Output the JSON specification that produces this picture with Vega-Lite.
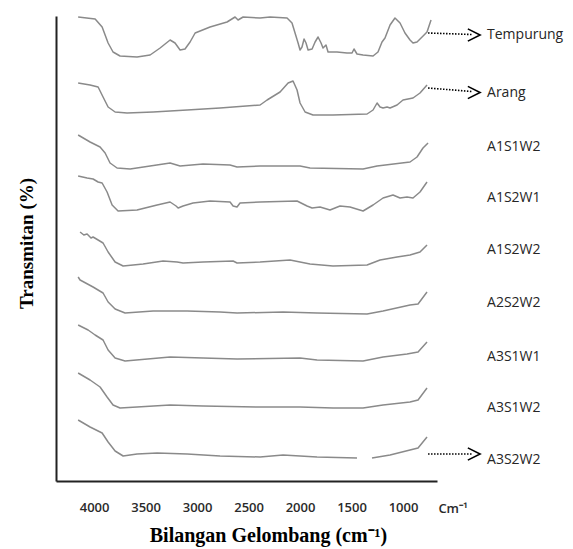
{
  "$schema": "https://vega.github.io/schema/vega-lite/v6.json",
  "width": 381,
  "height": 465,
  "autosize": {"type": "none"},
  "padding": {"left": 56, "top": 16, "right": 136, "bottom": 68},
  "background": "white",
  "view": {"stroke": null},
  "encoding": {
    "x": {
      "field": "x", "type": "quantitative",
      "scale": {"domain": [4370, 670], "nice": false, "zero": false},
      "axis": {
        "values": [4000, 3500, 3000, 2500, 2000, 1500, 1000],
        "format": "d",
        "ticks": false, "tickSize": 0, "grid": false,
        "domainColor": "#222222", "domainWidth": 2,
        "labelFont": "Open Sans", "labelFontSize": 13, "labelFontWeight": 600, "labelColor": "#2a2a2a", "labelPadding": 20,
        "title": "Bilangan Gelombang (cm⁻¹)",
        "titleFont": "Liberation Serif", "titleFontSize": 20, "titleFontWeight": "bold", "titleColor": "#000000",
        "titleX": 212, "titleY": 60, "titleBaseline": "alphabetic"
      }
    },
    "y": {
      "field": "y", "type": "quantitative",
      "scale": {"domain": [0, 93], "nice": false, "zero": false},
      "axis": {
        "labels": false, "ticks": false, "tickSize": 0, "grid": false,
        "domainColor": "#222222", "domainWidth": 2,
        "title": "Transmitan (%)",
        "titleFont": "Liberation Serif", "titleFontSize": 19, "titleFontWeight": "bold", "titleColor": "#000000",
        "titleX": -24, "titleY": 227, "titleAngle": -90, "titleBaseline": "alphabetic", "titleAlign": "center"
      }
    }
  },
  "layer": [
    {
      "data": {"values": [
        {"s":"Tempurung","x":4155,"y":92.8},{"s":"Tempurung","x":3990,"y":92.4},{"s":"Tempurung","x":3922,"y":90.8},{"s":"Tempurung","x":3864,"y":87.6},{"s":"Tempurung","x":3816,"y":85.8},{"s":"Tempurung","x":3748,"y":85.0},{"s":"Tempurung","x":3583,"y":84.8},{"s":"Tempurung","x":3456,"y":85.2},{"s":"Tempurung","x":3359,"y":86.6},{"s":"Tempurung","x":3262,"y":88.2},{"s":"Tempurung","x":3214,"y":87.6},{"s":"Tempurung","x":3165,"y":86.2},{"s":"Tempurung","x":3117,"y":86.4},{"s":"Tempurung","x":3068,"y":87.8},{"s":"Tempurung","x":3019,"y":89.6},{"s":"Tempurung","x":2874,"y":90.8},{"s":"Tempurung","x":2709,"y":91.8},{"s":"Tempurung","x":2631,"y":92.8},{"s":"Tempurung","x":2602,"y":92.2},{"s":"Tempurung","x":2553,"y":92.8},{"s":"Tempurung","x":2388,"y":92.6},{"s":"Tempurung","x":2291,"y":92.8},{"s":"Tempurung","x":2126,"y":92.6},{"s":"Tempurung","x":2078,"y":91.6},{"s":"Tempurung","x":2019,"y":87.6},{"s":"Tempurung","x":2000,"y":86.2},{"s":"Tempurung","x":1981,"y":86.8},{"s":"Tempurung","x":1961,"y":88.4},{"s":"Tempurung","x":1942,"y":87.6},{"s":"Tempurung","x":1922,"y":86.2},{"s":"Tempurung","x":1883,"y":86.4},{"s":"Tempurung","x":1854,"y":87.8},{"s":"Tempurung","x":1825,"y":88.8},{"s":"Tempurung","x":1796,"y":87.6},{"s":"Tempurung","x":1777,"y":86.6},{"s":"Tempurung","x":1748,"y":87.2},{"s":"Tempurung","x":1728,"y":85.8},{"s":"Tempurung","x":1641,"y":85.8},{"s":"Tempurung","x":1544,"y":85.6},{"s":"Tempurung","x":1495,"y":85.6},{"s":"Tempurung","x":1476,"y":86.4},{"s":"Tempurung","x":1447,"y":85.4},{"s":"Tempurung","x":1388,"y":85.2},{"s":"Tempurung","x":1291,"y":85.0},{"s":"Tempurung","x":1243,"y":85.8},{"s":"Tempurung","x":1204,"y":87.8},{"s":"Tempurung","x":1175,"y":88.6},{"s":"Tempurung","x":1126,"y":91.2},{"s":"Tempurung","x":1078,"y":92.6},{"s":"Tempurung","x":1029,"y":91.6},{"s":"Tempurung","x":981,"y":89.6},{"s":"Tempurung","x":932,"y":88.2},{"s":"Tempurung","x":903,"y":87.6},{"s":"Tempurung","x":864,"y":87.8},{"s":"Tempurung","x":815,"y":88.8},{"s":"Tempurung","x":767,"y":89.8},{"s":"Tempurung","x":728,"y":92.2},

        {"s":"Arang","x":4155,"y":79.6},{"s":"Arang","x":4039,"y":79.2},{"s":"Arang","x":3961,"y":78.8},{"s":"Arang","x":3913,"y":76.8},{"s":"Arang","x":3864,"y":74.8},{"s":"Arang","x":3796,"y":73.8},{"s":"Arang","x":3680,"y":73.6},{"s":"Arang","x":3427,"y":73.8},{"s":"Arang","x":3097,"y":74.2},{"s":"Arang","x":2777,"y":74.6},{"s":"Arang","x":2388,"y":75.2},{"s":"Arang","x":2320,"y":76.2},{"s":"Arang","x":2194,"y":77.8},{"s":"Arang","x":2116,"y":79.6},{"s":"Arang","x":2068,"y":80.0},{"s":"Arang","x":2029,"y":78.2},{"s":"Arang","x":2000,"y":75.6},{"s":"Arang","x":1951,"y":73.8},{"s":"Arang","x":1874,"y":73.2},{"s":"Arang","x":1680,"y":73.2},{"s":"Arang","x":1349,"y":73.4},{"s":"Arang","x":1291,"y":74.2},{"s":"Arang","x":1252,"y":75.6},{"s":"Arang","x":1223,"y":74.8},{"s":"Arang","x":1194,"y":74.6},{"s":"Arang","x":1155,"y":74.8},{"s":"Arang","x":1126,"y":74.6},{"s":"Arang","x":1058,"y":75.2},{"s":"Arang","x":1000,"y":76.2},{"s":"Arang","x":903,"y":76.6},{"s":"Arang","x":835,"y":77.6},{"s":"Arang","x":767,"y":79.2},

        {"s":"A1S1W2","x":4155,"y":69.2},{"s":"A1S1W2","x":4039,"y":67.8},{"s":"A1S1W2","x":3942,"y":66.8},{"s":"A1S1W2","x":3893,"y":65.6},{"s":"A1S1W2","x":3845,"y":63.6},{"s":"A1S1W2","x":3777,"y":62.6},{"s":"A1S1W2","x":3650,"y":62.4},{"s":"A1S1W2","x":3456,"y":63.0},{"s":"A1S1W2","x":3262,"y":63.6},{"s":"A1S1W2","x":3165,"y":63.0},{"s":"A1S1W2","x":2942,"y":63.4},{"s":"A1S1W2","x":2680,"y":63.2},{"s":"A1S1W2","x":2612,"y":62.8},{"s":"A1S1W2","x":2388,"y":63.0},{"s":"A1S1W2","x":2000,"y":63.0},{"s":"A1S1W2","x":1903,"y":62.6},{"s":"A1S1W2","x":1388,"y":62.4},{"s":"A1S1W2","x":1252,"y":63.0},{"s":"A1S1W2","x":932,"y":63.8},{"s":"A1S1W2","x":864,"y":64.8},{"s":"A1S1W2","x":806,"y":66.6},{"s":"A1S1W2","x":757,"y":67.6},

        {"s":"A1S2W1","x":4155,"y":61.0},{"s":"A1S2W1","x":4068,"y":60.6},{"s":"A1S2W1","x":4010,"y":60.4},{"s":"A1S2W1","x":3961,"y":59.8},{"s":"A1S2W1","x":3922,"y":59.6},{"s":"A1S2W1","x":3874,"y":57.8},{"s":"A1S2W1","x":3825,"y":55.2},{"s":"A1S2W1","x":3767,"y":54.0},{"s":"A1S2W1","x":3583,"y":54.2},{"s":"A1S2W1","x":3388,"y":55.2},{"s":"A1S2W1","x":3262,"y":55.8},{"s":"A1S2W1","x":3204,"y":55.0},{"s":"A1S2W1","x":3184,"y":54.6},{"s":"A1S2W1","x":3136,"y":55.0},{"s":"A1S2W1","x":3039,"y":55.6},{"s":"A1S2W1","x":2874,"y":56.0},{"s":"A1S2W1","x":2680,"y":55.8},{"s":"A1S2W1","x":2650,"y":55.0},{"s":"A1S2W1","x":2612,"y":54.8},{"s":"A1S2W1","x":2583,"y":55.6},{"s":"A1S2W1","x":2388,"y":55.8},{"s":"A1S2W1","x":2029,"y":56.0},{"s":"A1S2W1","x":1932,"y":55.0},{"s":"A1S2W1","x":1883,"y":54.6},{"s":"A1S2W1","x":1806,"y":54.8},{"s":"A1S2W1","x":1709,"y":54.2},{"s":"A1S2W1","x":1612,"y":55.0},{"s":"A1S2W1","x":1515,"y":54.8},{"s":"A1S2W1","x":1388,"y":54.0},{"s":"A1S2W1","x":1291,"y":55.2},{"s":"A1S2W1","x":1194,"y":56.6},{"s":"A1S2W1","x":1097,"y":57.2},{"s":"A1S2W1","x":1029,"y":56.6},{"s":"A1S2W1","x":961,"y":56.8},{"s":"A1S2W1","x":903,"y":56.6},{"s":"A1S2W1","x":835,"y":57.8},{"s":"A1S2W1","x":767,"y":59.8},

        {"s":"A1S2W2","x":4136,"y":49.8},{"s":"A1S2W2","x":4100,"y":49.2},{"s":"A1S2W2","x":4068,"y":49.4},{"s":"A1S2W2","x":4030,"y":48.6},{"s":"A1S2W2","x":4010,"y":48.8},{"s":"A1S2W2","x":3961,"y":48.2},{"s":"A1S2W2","x":3913,"y":47.6},{"s":"A1S2W2","x":3864,"y":45.8},{"s":"A1S2W2","x":3796,"y":43.8},{"s":"A1S2W2","x":3718,"y":43.0},{"s":"A1S2W2","x":3524,"y":43.4},{"s":"A1S2W2","x":3330,"y":44.0},{"s":"A1S2W2","x":3194,"y":43.8},{"s":"A1S2W2","x":3136,"y":43.6},{"s":"A1S2W2","x":2942,"y":43.8},{"s":"A1S2W2","x":2650,"y":44.0},{"s":"A1S2W2","x":2612,"y":43.6},{"s":"A1S2W2","x":2388,"y":43.8},{"s":"A1S2W2","x":2097,"y":44.2},{"s":"A1S2W2","x":1903,"y":43.4},{"s":"A1S2W2","x":1680,"y":43.0},{"s":"A1S2W2","x":1349,"y":43.2},{"s":"A1S2W2","x":1223,"y":44.2},{"s":"A1S2W2","x":1058,"y":44.8},{"s":"A1S2W2","x":932,"y":45.2},{"s":"A1S2W2","x":835,"y":45.8},{"s":"A1S2W2","x":767,"y":47.2},

        {"s":"A2S2W2","x":4155,"y":40.8},{"s":"A2S2W2","x":4136,"y":40.2},{"s":"A2S2W2","x":4010,"y":38.8},{"s":"A2S2W2","x":3913,"y":37.6},{"s":"A2S2W2","x":3864,"y":35.8},{"s":"A2S2W2","x":3796,"y":34.4},{"s":"A2S2W2","x":3699,"y":33.6},{"s":"A2S2W2","x":3427,"y":34.0},{"s":"A2S2W2","x":3097,"y":34.0},{"s":"A2S2W2","x":2777,"y":33.8},{"s":"A2S2W2","x":2612,"y":33.6},{"s":"A2S2W2","x":2165,"y":33.8},{"s":"A2S2W2","x":1835,"y":33.6},{"s":"A2S2W2","x":1349,"y":33.4},{"s":"A2S2W2","x":1194,"y":34.0},{"s":"A2S2W2","x":932,"y":35.2},{"s":"A2S2W2","x":854,"y":35.4},{"s":"A2S2W2","x":767,"y":37.8},

        {"s":"A3S1W1","x":4155,"y":31.2},{"s":"A3S1W1","x":4058,"y":30.2},{"s":"A3S1W1","x":3990,"y":29.2},{"s":"A3S1W1","x":3913,"y":28.2},{"s":"A3S1W1","x":3864,"y":26.2},{"s":"A3S1W1","x":3796,"y":24.6},{"s":"A3S1W1","x":3699,"y":24.0},{"s":"A3S1W1","x":3262,"y":24.8},{"s":"A3S1W1","x":2942,"y":24.6},{"s":"A3S1W1","x":2612,"y":24.4},{"s":"A3S1W1","x":2000,"y":24.6},{"s":"A3S1W1","x":1835,"y":24.2},{"s":"A3S1W1","x":1388,"y":24.0},{"s":"A3S1W1","x":1194,"y":24.8},{"s":"A3S1W1","x":961,"y":25.4},{"s":"A3S1W1","x":854,"y":25.8},{"s":"A3S1W1","x":767,"y":27.8},

        {"s":"A3S1W2","x":4155,"y":21.6},{"s":"A3S1W2","x":4039,"y":20.2},{"s":"A3S1W2","x":3942,"y":18.8},{"s":"A3S1W2","x":3874,"y":16.8},{"s":"A3S1W2","x":3816,"y":15.2},{"s":"A3S1W2","x":3748,"y":14.6},{"s":"A3S1W2","x":3583,"y":14.8},{"s":"A3S1W2","x":3262,"y":15.2},{"s":"A3S1W2","x":2942,"y":15.0},{"s":"A3S1W2","x":2388,"y":14.8},{"s":"A3S1W2","x":2000,"y":14.8},{"s":"A3S1W2","x":1680,"y":14.6},{"s":"A3S1W2","x":1388,"y":14.6},{"s":"A3S1W2","x":1194,"y":15.2},{"s":"A3S1W2","x":932,"y":15.8},{"s":"A3S1W2","x":854,"y":16.2},{"s":"A3S1W2","x":767,"y":18.6},

        {"s":"A3S2W2","p":1,"x":4155,"y":12.2},{"s":"A3S2W2","p":1,"x":4039,"y":10.8},{"s":"A3S2W2","p":1,"x":3922,"y":9.6},{"s":"A3S2W2","p":1,"x":3864,"y":7.8},{"s":"A3S2W2","p":1,"x":3796,"y":6.0},{"s":"A3S2W2","p":1,"x":3718,"y":5.0},{"s":"A3S2W2","p":1,"x":3583,"y":5.4},{"s":"A3S2W2","p":1,"x":3388,"y":5.6},{"s":"A3S2W2","p":1,"x":3097,"y":5.4},{"s":"A3S2W2","p":1,"x":2777,"y":5.0},{"s":"A3S2W2","p":1,"x":2388,"y":4.8},{"s":"A3S2W2","p":1,"x":2165,"y":5.2},{"s":"A3S2W2","p":1,"x":1835,"y":4.8},{"s":"A3S2W2","p":1,"x":1447,"y":4.6},
        {"s":"A3S2W2","p":2,"x":1301,"y":4.6},{"s":"A3S2W2","p":2,"x":1126,"y":5.2},{"s":"A3S2W2","p":2,"x":932,"y":6.2},{"s":"A3S2W2","p":2,"x":854,"y":6.6},{"s":"A3S2W2","p":2,"x":767,"y":8.8}
      ]},
      "mark": {"type": "line", "color": "#8a8a8a", "strokeWidth": 1.5, "interpolate": "linear", "strokeJoin": "round"},
      "encoding": {
        "detail": [{"field": "s", "type": "nominal"}, {"field": "p", "type": "nominal"}],
        "order": {"field": "x", "type": "quantitative", "sort": "descending"}
      }
    },
    {
      "data": {"values": [
        {"x": 757, "y": 89.6, "x2": 330, "y2": 89.3},
        {"x": 757, "y": 78.6, "x2": 330, "y2": 77.9},
        {"x": 757, "y": 5.4, "x2": 330, "y2": 5.4}
      ]},
      "mark": {"type": "rule", "color": "#000000", "strokeWidth": 1.6, "strokeDash": [1.5, 1.5]},
      "encoding": {
        "x2": {"field": "x2"},
        "y2": {"field": "y2"}
      }
    },
    {
      "data": {"values": [
        {"x": 311, "y": 89.2},
        {"x": 311, "y": 77.7},
        {"x": 311, "y": 5.4}
      ]},
      "mark": {"type": "point", "shape": "M -1 -1 L 1 0 L -1 1", "filled": false, "stroke": "#000000", "strokeWidth": 1.6, "size": 150, "opacity": 1}
    },
    {
      "data": {"values": [
        {"t": "Tempurung", "x": 184, "y": 89.2},
        {"t": "Arang", "x": 184, "y": 77.6},
        {"t": "A1S1W2", "x": 184, "y": 66.8},
        {"t": "A1S2W1", "x": 184, "y": 56.6},
        {"t": "A1S2W2", "x": 184, "y": 46.2},
        {"t": "A2S2W2", "x": 184, "y": 35.6},
        {"t": "A3S1W1", "x": 184, "y": 24.8},
        {"t": "A3S1W2", "x": 184, "y": 14.6},
        {"t": "A3S2W2", "x": 184, "y": 4.2}
      ]},
      "mark": {"type": "text", "align": "left", "baseline": "middle", "font": "Open Sans", "fontSize": 14, "color": "#262626"},
      "encoding": {"text": {"field": "t"}}
    },
    {
      "data": {"values": [{"t": "Cm⁻¹", "x": 514, "y": -5.5}]},
      "mark": {"type": "text", "align": "center", "baseline": "middle", "font": "Open Sans", "fontSize": 13, "fontWeight": 600, "color": "#2a2a2a"},
      "encoding": {"text": {"field": "t"}}
    }
  ]
}
